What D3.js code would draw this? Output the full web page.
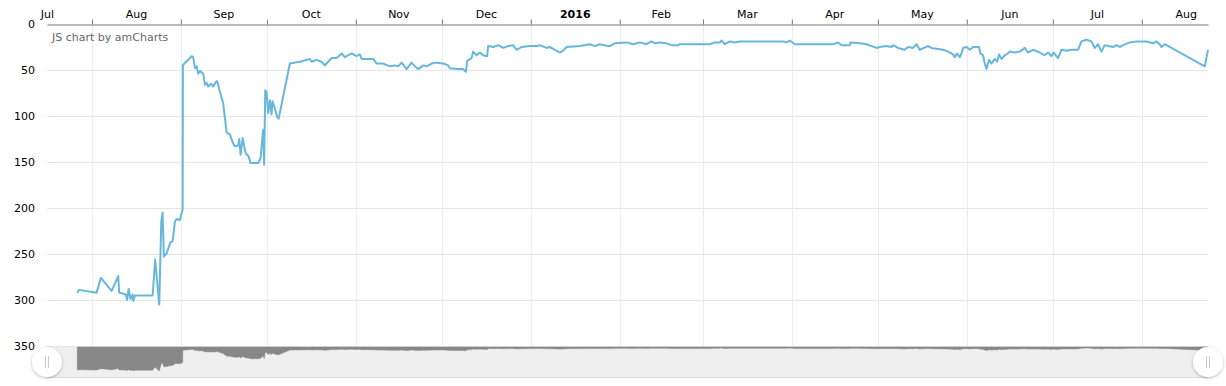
<!DOCTYPE html>
<html>
<head>
<meta charset="utf-8">
<script src="https://cdn.jsdelivr.net/npm/d3@7"></script>
<style>
  body { margin: 0; background: #fff; }
  svg { display: block; font-family: "DejaVu Sans", Verdana, sans-serif; }
</style>
</head>
<body>
<svg width="1226" height="386"></svg>
<script>
// Ranking values (lower is better, axis reversed)
const dates = [
  "2015-07-26 21", "2015-07-27 10", "2015-08-02 15", "2015-08-04 03", "2015-08-07 21",
  "2015-08-10 04", "2015-08-10 12", "2015-08-12 20", "2015-08-13 07", "2015-08-13 19",
  "2015-08-14 12", "2015-08-15 05", "2015-08-15 10", "2015-08-16 00", "2015-08-22 04",
  "2015-08-23 01", "2015-08-24 11", "2015-08-25 04", "2015-08-25 15", "2015-08-26 02",
  "2015-08-27 01", "2015-08-28 10", "2015-08-29 03", "2015-08-29 22", "2015-08-30 12",
  "2015-08-31 16", "2015-09-01 15", "2015-09-01 17", "2015-09-02 10", "2015-09-03 13",
  "2015-09-04 18", "2015-09-05 07", "2015-09-05 22", "2015-09-06 12", "2015-09-07 01",
  "2015-09-07 15", "2015-09-08 19", "2015-09-09 09", "2015-09-10 00", "2015-09-10 13",
  "2015-09-11 09", "2015-09-12 07", "2015-09-13 05", "2015-09-13 16", "2015-09-14 15",
  "2015-09-15 18", "2015-09-16 23", "2015-09-18 02", "2015-09-19 06", "2015-09-19 20",
  "2015-09-21 00", "2015-09-21 08", "2015-09-21 20", "2015-09-22 13", "2015-09-23 08",
  "2015-09-23 22", "2015-09-24 12", "2015-09-25 07", "2015-09-26 05", "2015-09-27 23",
  "2015-09-28 19", "2015-09-29 12", "2015-09-29 17", "2015-09-30 01", "2015-09-30 10",
  "2015-09-30 21", "2015-10-01 11", "2015-10-02 01", "2015-10-02 15", "2015-10-02 23",
  "2015-10-03 19", "2015-10-04 14", "2015-10-05 02", "2015-10-09 00", "2015-10-12 12",
  "2015-10-15 23", "2015-10-16 14", "2015-10-18 08", "2015-10-20 01", "2015-10-21 05",
  "2015-10-22 09", "2015-10-23 13", "2015-10-25 07", "2015-10-27 01", "2015-10-28 04",
  "2015-10-30 12", "2015-11-01 06", "2015-11-02 10", "2015-11-03 00", "2015-11-07 01",
  "2015-11-08 06", "2015-11-10 13", "2015-11-12 21", "2015-11-14 15", "2015-11-15 18",
  "2015-11-16 23", "2015-11-18 17", "2015-11-20 10", "2015-11-21 14", "2015-11-22 18",
  "2015-11-24 12", "2015-11-25 16", "2015-11-27 10", "2015-11-29 04", "2015-12-01 11",
  "2015-12-03 05", "2015-12-03 19", "2015-12-06 03", "2015-12-08 10", "2015-12-09 09",
  "2015-12-09 20", "2015-12-11 08", "2015-12-11 22", "2015-12-13 02", "2015-12-14 06",
  "2015-12-15 09", "2015-12-16 19", "2015-12-17 03", "2015-12-18 21", "2015-12-20 15",
  "2015-12-22 09", "2015-12-24 02", "2015-12-25 20", "2015-12-27 01", "2015-12-28 18",
  "2015-12-31 16", "2016-01-03 00", "2016-01-04 04", "2016-01-06 12", "2016-01-07 15",
  "2016-01-09 09", "2016-01-11 03", "2016-01-12 06", "2016-01-13 11", "2016-01-18 02",
  "2016-01-21 14", "2016-01-23 08", "2016-01-25 01", "2016-01-27 23", "2016-01-28 13",
  "2016-01-30 07", "2016-02-03 09", "2016-02-05 16", "2016-02-08 00", "2016-02-10 08",
  "2016-02-12 02", "2016-02-13 06", "2016-02-14 23", "2016-02-17 07", "2016-02-19 01",
  "2016-02-21 09", "2016-02-21 23", "2016-03-03 10", "2016-03-05 04", "2016-03-06 21",
  "2016-03-07 12", "2016-03-08 15", "2016-03-10 09", "2016-03-12 03", "2016-03-13 21",
  "2016-03-15 00", "2016-03-28 23", "2016-03-30 03", "2016-03-31 07", "2016-04-02 01",
  "2016-04-05 12", "2016-04-15 09", "2016-04-17 03", "2016-04-18 07", "2016-04-21 05",
  "2016-04-21 11", "2016-04-24 17", "2016-04-27 01", "2016-04-30 12", "2016-05-01 16",
  "2016-05-03 23", "2016-05-05 18", "2016-05-06 07", "2016-05-08 01", "2016-05-10 09",
  "2016-05-11 12", "2016-05-13 06", "2016-05-14 11", "2016-05-15 14", "2016-05-18 12",
  "2016-05-19 16", "2016-05-23 17", "2016-05-25 11", "2016-05-27 05", "2016-05-27 19",
  "2016-05-28 14", "2016-05-29 13", "2016-05-30 03", "2016-05-30 17", "2016-05-31 21",
  "2016-06-02 01", "2016-06-03 04", "2016-06-05 06", "2016-06-05 18", "2016-06-06 16",
  "2016-06-07 06", "2016-06-07 20", "2016-06-08 18", "2016-06-09 14", "2016-06-10 18",
  "2016-06-11 13", "2016-06-12 06", "2016-06-13 02", "2016-06-14 06", "2016-06-15 09",
  "2016-06-15 23", "2016-06-17 17", "2016-06-19 11", "2016-06-21 05", "2016-06-22 08",
  "2016-06-24 02", "2016-06-26 10", "2016-06-28 04", "2016-06-29 08", "2016-06-30 12",
  "2016-07-01 07", "2016-07-02 19", "2016-07-04 00", "2016-07-05 18", "2016-07-07 12",
  "2016-07-09 19", "2016-07-10 23", "2016-07-12 17", "2016-07-14 11", "2016-07-15 14",
  "2016-07-16 18", "2016-07-17 22", "2016-07-19 02", "2016-07-20 06", "2016-07-22 00",
  "2016-07-23 04", "2016-07-24 07", "2016-07-25 11", "2016-07-27 19", "2016-07-30 03",
  "2016-08-02 15", "2016-08-04 22", "2016-08-06 02", "2016-08-07 06", "2016-08-07 20",
  "2016-08-09 00", "2016-08-22 23", "2016-08-24 02"
];
const values = [
  292, 289, 292, 276, 290,
  274, 292, 294, 300, 288,
  299, 294, 301, 295, 295,
  256, 305, 215, 205, 253,
  249, 237, 236, 215, 212,
  213, 201, 45, 42, 39,
  35, 36, 48, 46, 54,
  51, 54, 66, 64, 68,
  65, 68, 63, 62, 74,
  86, 118, 120, 130, 133,
  132, 125, 142, 124, 137,
  142, 143, 151, 151, 151,
  146, 121, 115, 153, 72,
  74, 97, 83, 98, 84,
  92, 101, 103, 43, 41,
  38, 41, 39, 41, 45,
  41, 37, 37, 32, 36,
  32, 35, 33, 38, 38,
  43, 43, 46, 45, 46,
  42, 49, 42, 46, 49,
  45, 46, 43, 42, 43,
  45, 48, 49, 49, 52,
  40, 37, 30, 34, 31,
  34, 35, 24, 25, 23,
  26, 24, 23, 28, 25,
  24, 24, 23, 26, 25,
  28, 31, 29, 25, 24,
  22, 24, 22, 24, 24,
  21, 20, 22, 20, 22,
  19, 21, 20, 21, 23,
  23, 22, 22, 20, 20,
  18, 22, 19, 20, 19,
  19, 19, 20, 18, 22,
  22, 22, 20, 23, 23,
  20, 21, 22, 26, 25,
  24, 25, 23, 26, 28,
  25, 26, 22, 28, 24,
  26, 28, 30, 33, 36,
  32, 36, 32, 26, 25,
  28, 25, 25, 32, 34,
  43, 49, 39, 43, 38,
  41, 33, 38, 34, 32,
  30, 31, 30, 26, 31,
  28, 31, 34, 31, 35,
  31, 37, 28, 29, 28,
  28, 19, 17, 19, 26,
  22, 30, 23, 24, 25,
  23, 25, 23, 20, 19,
  19, 21, 19, 22, 25,
  22, 46, 28
];
const yTicks = [0, 50, 100, 150, 200, 250, 300, 350];
const xStart = "2015-07-16 08";
const xEnd = "2016-08-24 02";

const parse = d3.timeParse("%Y-%m-%d %H");
const data = dates.map((d, i) => ({ date: parse(d), value: values[i] }));

const svg = d3.select("svg");
const plotLeft = 47, plotRight = 1208, plotTop = 24, plotBottom = 346;
const scrollTop = 347, scrollBottom = 377;

const x = d3.scaleTime()
    .domain([parse(xStart), parse(xEnd)])
    .range([plotLeft, plotRight]);
const y = d3.scaleLinear()
    .domain([0, 350])
    .range([plotTop, plotBottom]);

const months = d3.timeMonth.range(d3.timeMonth.ceil(x.domain()[0]), x.domain()[1]);

// Grid
const grid = svg.append("g");
grid.selectAll(".hgrid")
    .data(yTicks.filter(t => t > 0))
    .enter().append("line")
    .attr("x1", plotLeft).attr("x2", plotRight)
    .attr("y1", d => Math.round(y(d)) + 0.5).attr("y2", d => Math.round(y(d)) + 0.5)
    .attr("stroke", "#e6e6e6");
grid.selectAll(".vgrid")
    .data(months)
    .enter().append("line")
    .attr("x1", d => Math.round(x(d)) + 0.5).attr("x2", d => Math.round(x(d)) + 0.5)
    .attr("y1", plotTop).attr("y2", plotBottom)
    .attr("stroke", "#ececec");

// Value axis (left)
const yAxis = svg.append("g")
    .attr("transform", `translate(${plotLeft},0)`)
    .call(d3.axisLeft(y).tickValues(yTicks).tickSize(0).tickPadding(12));
yAxis.select(".domain").remove();
yAxis.selectAll("text")
    .attr("font-size", 11)
    .attr("font-family", "DejaVu Sans, Verdana, sans-serif")
    .attr("fill", "#000");

// Date axis (top)
const xAxis = svg.append("g")
    .attr("transform", `translate(0,${plotTop + 0.5})`)
    .call(d3.axisTop(x).tickValues(months).tickSize(5).tickSizeOuter(0).tickFormat(""));
xAxis.select(".domain").attr("stroke", "#777");
xAxis.selectAll(".tick line").attr("stroke", "#777");

const labelMonths = d3.timeMonth.range(d3.timeMonth.floor(x.domain()[0]), x.domain()[1]);
svg.append("g").selectAll("text")
    .data(labelMonths)
    .enter().append("text")
    .attr("x", d => x(new Date((+d + +d3.timeMonth.offset(d, 1)) / 2)))
    .attr("y", 18)
    .attr("text-anchor", "middle")
    .attr("font-size", 11)
    .attr("font-weight", d => d.getMonth() === 0 ? "bold" : "normal")
    .attr("fill", "#000")
    .text(d => d.getMonth() === 0 ? d3.timeFormat("%Y")(d) : d3.timeFormat("%b")(d));

svg.append("text")
    .attr("x", 52).attr("y", 41)
    .attr("font-size", 11)
    .attr("fill", "#666")
    .text("JS chart by amCharts");

// Main line
const line = d3.line()
    .x(d => x(d.date))
    .y(d => y(d.value));
svg.append("path")
    .datum(data)
    .attr("fill", "none")
    .attr("stroke", "#67b7dc")
    .attr("stroke-width", 2)
    .attr("stroke-linejoin", "round")
    .attr("d", line);

// Scrollbar
const sy = d3.scaleLinear()
    .domain([d3.min(values), d3.max(values)])
    .range([scrollTop + 1, scrollTop + 24]);
svg.append("rect")
    .attr("x", plotLeft).attr("y", scrollTop)
    .attr("width", plotRight - plotLeft).attr("height", scrollBottom - scrollTop)
    .attr("fill", "#efefef");
svg.append("line")
    .attr("x1", plotLeft).attr("x2", plotRight)
    .attr("y1", scrollBottom + 0.5).attr("y2", scrollBottom + 0.5)
    .attr("stroke", "#dcdcdc");
const area = d3.area()
    .x(d => x(d.date))
    .y0(scrollTop)
    .y1(d => sy(d.value));
svg.append("path")
    .datum(data)
    .attr("fill", "#888")
    .attr("stroke", "#888")
    .attr("stroke-width", 0.5)
    .attr("d", area);

const defs = svg.append("defs");
defs.append("filter").attr("id", "shadow")
    .attr("x", "-50%").attr("y", "-50%").attr("width", "200%").attr("height", "200%")
    .append("feDropShadow")
    .attr("dx", 0).attr("dy", 1).attr("stdDeviation", 1.5)
    .attr("flood-color", "#000").attr("flood-opacity", 0.3);

const grips = svg.append("g").selectAll("g")
    .data([plotLeft, plotRight])
    .enter().append("g")
    .attr("transform", d => `translate(${d},362)`);
grips.append("circle")
    .attr("r", 15)
    .attr("fill", "#fff")
    .attr("filter", "url(#shadow)");
grips.selectAll("line")
    .data([-1.5, 1.5])
    .enter().append("line")
    .attr("x1", d => d).attr("x2", d => d)
    .attr("y1", -6).attr("y2", 6)
    .attr("stroke", "#c8c8c8")
    .attr("stroke-width", 1);
</script>
</body>
</html>
